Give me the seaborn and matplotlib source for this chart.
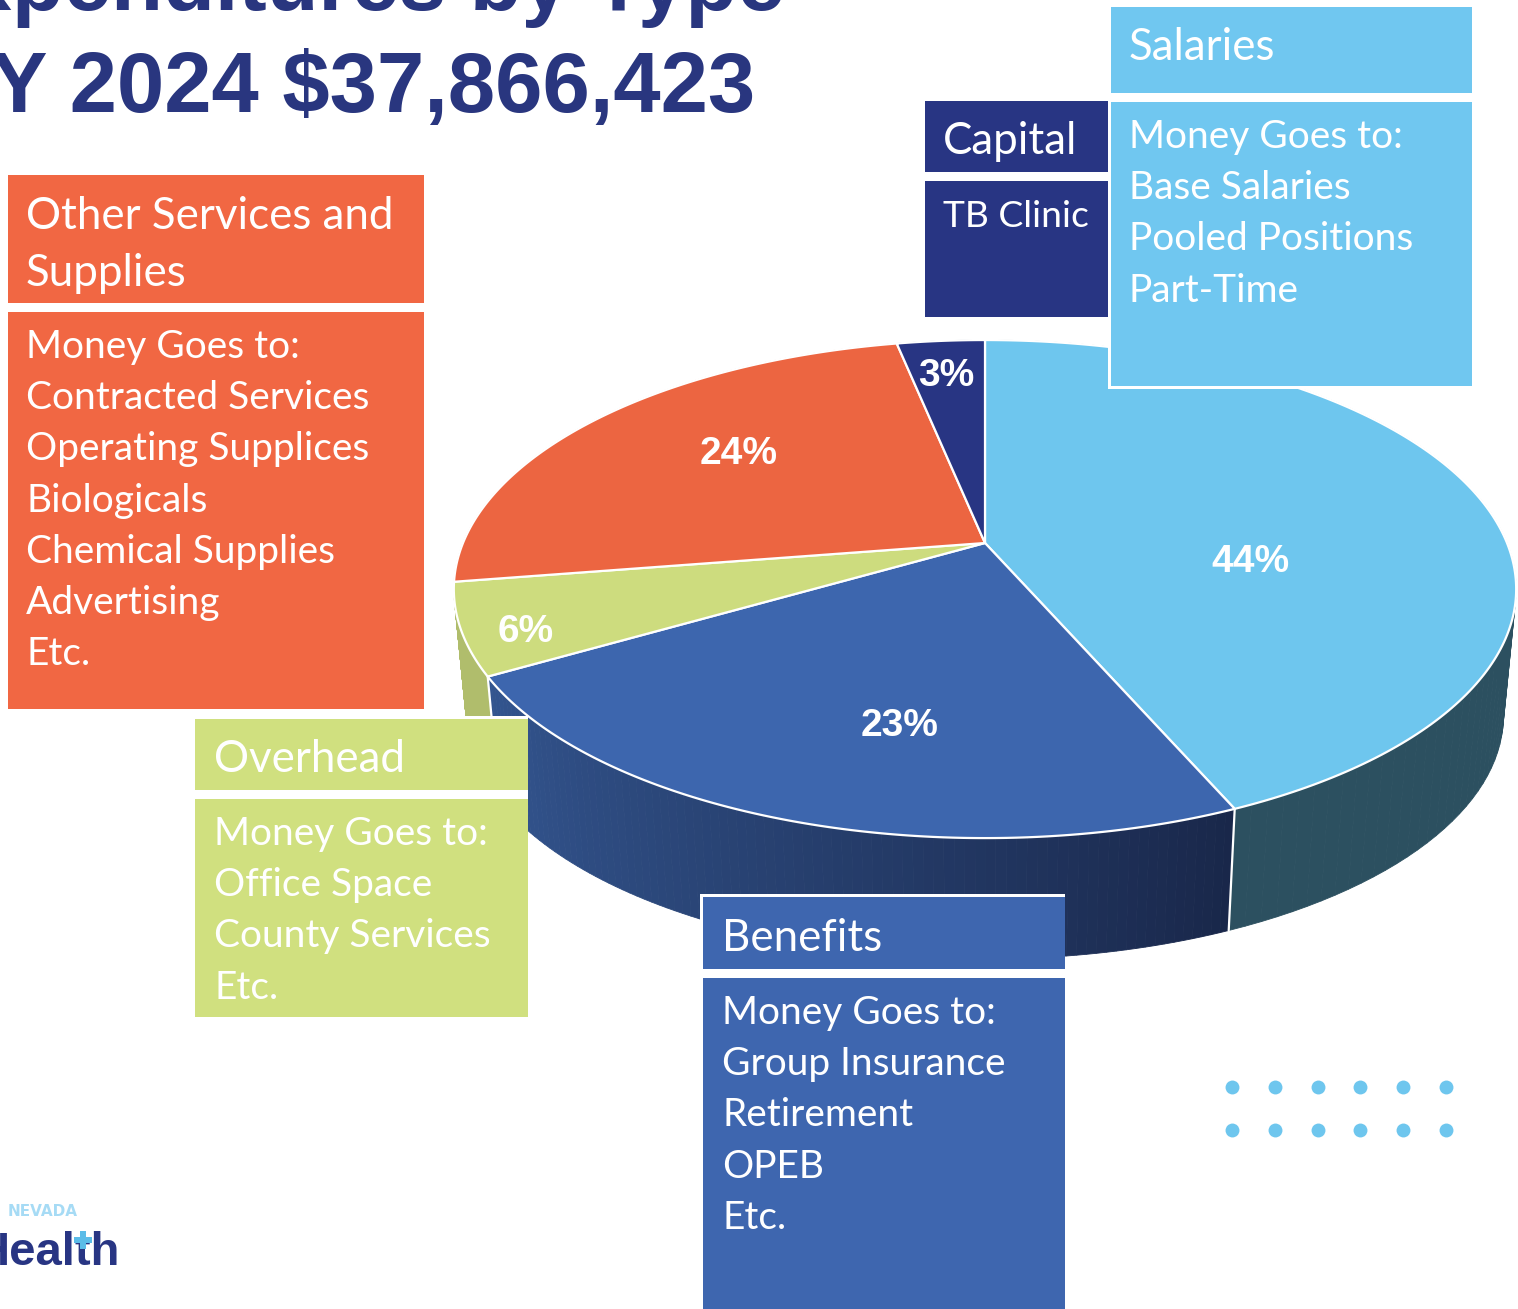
import numpy as np
import matplotlib
matplotlib.use("Agg")
import matplotlib.pyplot as plt
from matplotlib.patches import Rectangle
import seaborn as sns

# clockwise from 12 o'clock
categories = ["Salaries", "Benefits", "Overhead", "Other Services and\nSupplies", "Capital"]
shares = [43.5, 23.1, 5.9, 24.3, 3.2]
top_colors = ["#6EC6EE", "#3D66AE", "#CDDC7E", "#EC6541", "#283583"]
side_colors = ["#2C5060", "#2C4F88", "#B0BD6C", "#B34A2E", "#1D2660"]
box_colors = ["#70C7F0", "#3E66AF", "#D0E07F", "#F16743", "#283583"]
money_goes_to = [
    ["Money Goes to:", "Base Salaries", "Pooled Positions", "Part-Time"],
    ["Money Goes to:", "Group Insurance", "Retirement", "OPEB", "Etc."],
    ["Money Goes to:", "Office Space", "County Services", "Etc."],
    ["Money Goes to:", "Contracted Services", "Operating Supplices", "Biologicals",
     "Chemical Supplies", "Advertising", "Etc."],
    ["TB Clinic"],
]
title_lines = ["Expenditures by Type", "FY 2024 $37,866,423"]

# label anchors, in picture pixels
label_xy = [(1250, 562), (900, 726), (526, 632), (739, 454), (946, 376)]
# x0, x1, head y0, head y1, body y0, body y1, text x, head baseline, body baseline
boxes = [
    (1111, 1472, 7, 93, 102, 386, 1129, 60, 148),
    (703, 1065, 897, 969, 978, 1309, 722, 951, 1024),
    (195, 528, 719, 790, 799, 1017, 214, 772, 845),
    (8, 424, 175, 303, 312, 709, 26, 229, 358),
    (925, 1108, 101, 172, 181, 317, 943, 154, 227),
]
dot_x = [1232, 1275, 1318, 1360, 1403, 1446]
dot_y = [1087, 1130]

CX, CY = 985, 543
A, B, K = 522, 240.5, 0.185
SHRINK, DROP = 0.976, 128


def rim(theta, shrink=1.0, drop=0.0):
    """Project points of the tilted pie circle to picture pixels."""
    x, y = np.sin(theta), np.cos(theta)
    w = 1 + K * y
    return CX + shrink * A * x / w, CY + drop - shrink * B * y / w


def mix(c1, c2, t):
    c1, c2 = np.array(matplotlib.colors.to_rgb(c1)), np.array(matplotlib.colors.to_rgb(c2))
    return tuple(c1 + (c2 - c1) * t)


sns.set_theme(style="white")
plt.rcParams["font.family"] = ["Lato", "DejaVu Sans"]

fig = plt.figure(figsize=(15.18, 13.09), dpi=100)
ax = fig.add_axes([0, 0, 1, 1])
ax.set_xlim(0, 1518)
ax.set_ylim(1309, 0)
ax.axis("off")

edges = np.cumsum([0] + shares) / sum(shares) * 2 * np.pi

# side wall first, back slices before front ones, one thin strip at a time
for i in [4, 3, 2, 0, 1]:
    steps = np.linspace(edges[i], edges[i + 1], 90)
    for j in range(len(steps) - 1):
        th = steps[j:j + 2]
        xa, ya = rim(th)
        xb, yb = rim(th[::-1], SHRINK, DROP)
        c = side_colors[i]
        if i == 1:
            # benefits side gets darker to the right
            c = mix("#19274A", "#33558F", (j / 88) ** 0.9)
        ax.fill(np.r_[xa, xb], np.r_[ya, yb], color=c, lw=0.6, zorder=2)

for t in edges[1:3]:
    xa, ya = rim(np.array([t]))
    xb, yb = rim(np.array([t]), SHRINK, DROP)
    ax.plot([xa[0], xb[0]], [ya[0], yb[0]], color="white", lw=1.6, zorder=3)

# top of the pie
for i, share in enumerate(shares):
    th = np.linspace(edges[i], edges[i + 1], 200)
    x, y = rim(th)
    ax.fill(np.r_[CX, x], np.r_[CY, y], facecolor=top_colors[i], edgecolor="white",
            lw=1.6, joinstyle="round", zorder=4)
    ax.text(label_xy[i][0], label_xy[i][1], f"{round(share)}%", color="white", fontsize=28,
            fontweight="bold", family="Liberation Sans", ha="center", va="center", zorder=5)

# callout boxes
for i, (x0, x1, h0, h1, b0, b1, tx, hb, bb) in enumerate(boxes):
    # white backing gives the outline and the gap between head and body
    ax.add_patch(Rectangle((x0 - 3, h0 - 3), x1 - x0 + 3, b1 - h0 + 6, facecolor="white",
                           edgecolor="none", zorder=6))
    for y0, y1 in [(h0, h1), (b0, b1)]:
        ax.add_patch(Rectangle((x0, y0), x1 - x0, y1 - y0, facecolor=box_colors[i],
                               edgecolor="none", zorder=6.5))
    for n, line in enumerate(categories[i].split("\n")):
        ax.text(tx, hb + n * 57, line, color="white", fontsize=31.6, va="baseline", zorder=7)
    body_size = 26.8 if i == 4 else 28
    for n, line in enumerate(money_goes_to[i]):
        ax.text(tx, bb + n * 51.2, line, color="white", fontsize=body_size, va="baseline", zorder=7)

# dots and logo
dx, dy = np.meshgrid(dot_x, dot_y)
ax.scatter(dx.ravel(), dy.ravel(), s=100, color="#6EC6EE", linewidths=0, zorder=3)
ax.text(78, 1216, "NEVADA", color="#A6DBF5", fontsize=11, fontweight="bold", ha="right",
        va="baseline", family="DejaVu Sans")
ax.text(120, 1265, "Health", color="#283583", fontsize=34, fontweight="bold", ha="right",
        va="baseline", family="Liberation Sans")
ax.scatter([83], [1240], marker="P", s=170, color="#5BBCE8", linewidths=0, zorder=3)

# title runs off the slide edge
ax.text(785, 10, title_lines[0], color="#29367F", fontsize=61.2, fontweight="bold",
        family="Liberation Sans", ha="right", va="baseline")
ax.text(755, 112, title_lines[1], color="#29367F", fontsize=61.2, fontweight="bold",
        family="Liberation Sans", ha="right", va="baseline")

fig.savefig("out.png", dpi=100)
